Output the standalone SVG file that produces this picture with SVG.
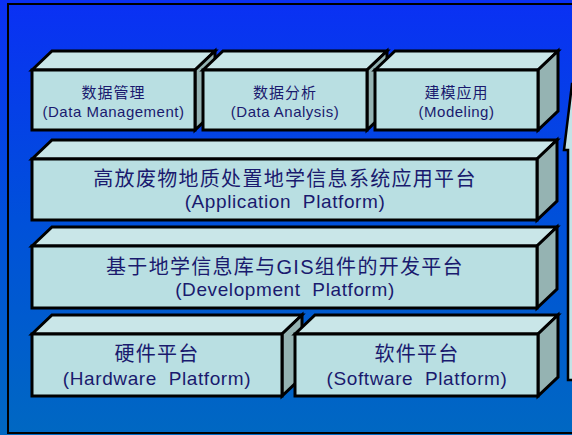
<svg xmlns="http://www.w3.org/2000/svg" width="572" height="435" viewBox="0 0 572 435">
  <defs>
    <linearGradient id="bg" x1="0" y1="0" x2="0" y2="1">
      <stop offset="0" stop-color="#0a30f4"/>
      <stop offset="0.5" stop-color="#0050da"/>
      <stop offset="1" stop-color="#0068c2"/>
    </linearGradient>
  </defs>
  <style>
    .front { fill: #b9dfe2; stroke: #000; stroke-width: 3; stroke-linejoin: miter; }
    .top { fill: #c9e6e8; stroke: #000; stroke-width: 3; stroke-linejoin: miter; }
    .side { fill: #95b3b2; stroke: #000; stroke-width: 3; stroke-linejoin: miter; }
    text { font-family: "Liberation Sans", "Noto Sans CJK SC", sans-serif; fill: #1a1a6e; text-anchor: middle; }
    .s { font-size: 15px; letter-spacing: 0.5px; }
    .sc { font-size: 15px; letter-spacing: 1px; }
    .l { font-size: 19px; letter-spacing: 0.6px; }
    .lc { font-size: 20px; letter-spacing: 1.3px; }
  </style>

  <!-- background and frame -->
  <rect x="0" y="0" width="572" height="435" fill="url(#bg)"/>
  <polyline points="580,4 8,4 8,433 580,433" fill="none" stroke="#000" stroke-width="2"/>

  <!-- upward arrow at the right edge -->
  <polygon points="572,84 564,150 568,150 568,380 580,380 580,84" fill="#c3e3e6" stroke="#000" stroke-width="2.5"/>

  <!-- top row -->
  <g id="data-management">
    <polygon class="top" points="32,70 52,51 215,51 195,70"/>
    <polygon class="side" points="195,70 215,51 215,111 195,130"/>
    <rect class="front" x="32" y="70" width="163" height="60"/>
    <text class="sc" x="113.5" y="98">数据管理</text>
    <text class="s" x="113.5" y="117">(Data Management)</text>
  </g>
  <g id="data-analysis">
    <polygon class="top" points="203,70 223,51 387,51 367,70"/>
    <polygon class="side" points="367,70 387,51 387,111 367,130"/>
    <rect class="front" x="203" y="70" width="164" height="60"/>
    <text class="sc" x="285" y="98">数据分析</text>
    <text class="s" x="285" y="117">(Data Analysis)</text>
  </g>
  <g id="modeling">
    <polygon class="top" points="375,70 395,51 558,51 538,70"/>
    <polygon class="side" points="538,70 558,51 558,111 538,130"/>
    <rect class="front" x="375" y="70" width="163" height="60"/>
    <text class="sc" x="456.5" y="98">建模应用</text>
    <text class="s" x="456.5" y="117">(Modeling)</text>
  </g>

  <!-- application platform -->
  <g id="application-platform">
    <polygon class="top" points="32,159 52,140 557,140 537,159"/>
    <polygon class="side" points="537,159 557,140 557,201 537,220"/>
    <rect class="front" x="32" y="159" width="505" height="61"/>
    <text class="lc" x="285" y="186">高放废物地质处置地学信息系统应用平台</text>
    <text class="l" x="285" y="208">(Application&#160; Platform)</text>
  </g>

  <!-- development platform -->
  <g id="development-platform">
    <polygon class="top" points="32,246 52,227 557,227 537,246"/>
    <polygon class="side" points="537,246 557,227 557,289 537,308"/>
    <rect class="front" x="32" y="246" width="505" height="62"/>
    <text class="lc" x="285" y="274">基于地学信息库与GIS组件的开发平台</text>
    <text class="l" x="285" y="296">(Development&#160; Platform)</text>
  </g>

  <!-- bottom row -->
  <g id="hardware-platform">
    <polygon class="top" points="32,334 52,315 302,315 282,334"/>
    <polygon class="side" points="282,334 302,315 302,377 282,396"/>
    <rect class="front" x="32" y="334" width="250" height="62"/>
    <text class="lc" x="157" y="361">硬件平台</text>
    <text class="l" x="157" y="385">(Hardware&#160; Platform)</text>
  </g>
  <g id="software-platform">
    <polygon class="top" points="295,334 315,315 558,315 538,334"/>
    <polygon class="side" points="538,334 558,315 558,377 538,396"/>
    <rect class="front" x="295" y="334" width="243" height="62"/>
    <text class="lc" x="417" y="361">软件平台</text>
    <text class="l" x="417" y="385">(Software&#160; Platform)</text>
  </g>

  <!-- no connectors between layers -->
  <g id="connectors"/>
</svg>
